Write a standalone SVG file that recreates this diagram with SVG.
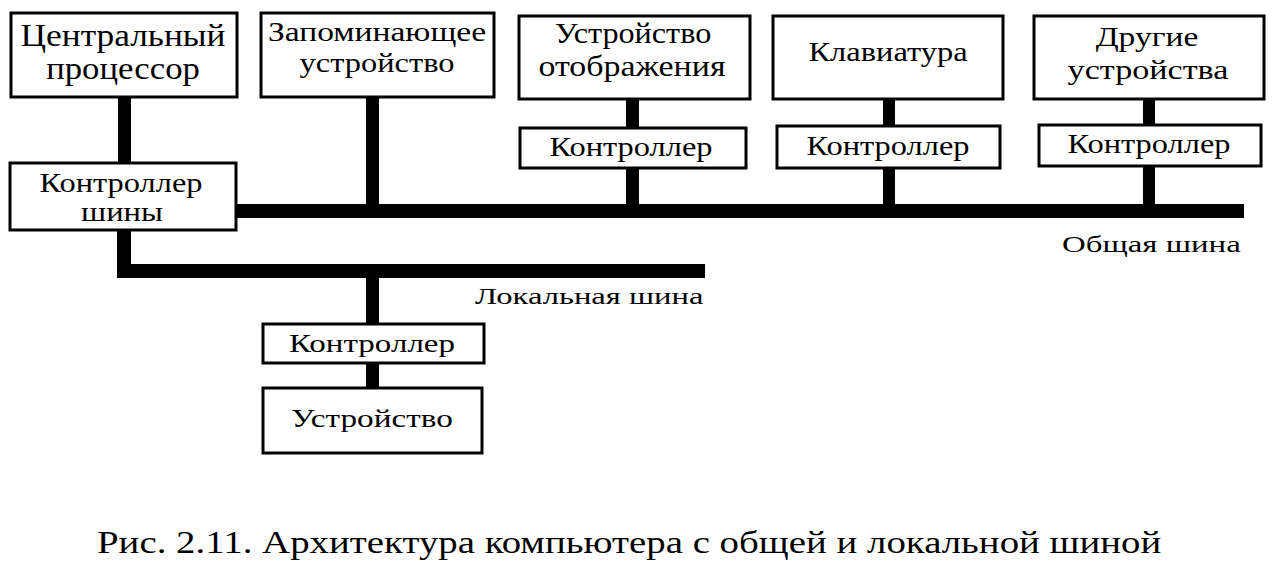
<svg xmlns="http://www.w3.org/2000/svg" width="1281" height="576" viewBox="0 0 1281 576">
<style>
.box{fill:#fff;stroke:#000;stroke-width:3}
.bus{fill:#000}
text{fill:#000;text-anchor:middle}
.lbl{text-anchor:start}
.cap{text-anchor:start}
</style>
<rect width="1281" height="576" fill="#fff"/>
<g id="connectors">
<rect class="bus" x="118" y="96" width="13" height="68"/>
<rect class="bus" x="366" y="96" width="13" height="110"/>
<rect class="bus" x="626" y="98" width="13" height="31"/>
<rect class="bus" x="626" y="167" width="13" height="39"/>
<rect class="bus" x="883" y="98" width="12" height="29"/>
<rect class="bus" x="883" y="167" width="12" height="39"/>
<rect class="bus" x="1143" y="98" width="12" height="28"/>
<rect class="bus" x="1143" y="165" width="12" height="41"/>
<rect class="bus" x="235" y="204" width="1009" height="14"/>
<rect class="bus" x="117" y="229" width="14" height="49"/>
<rect class="bus" x="117" y="264" width="588" height="14"/>
<rect class="bus" x="366" y="277" width="13" height="47"/>
<rect class="bus" x="366" y="361" width="13" height="28"/>
</g>
<g id="cpu"><rect class="box" x="11" y="13" width="226" height="84"/>
<text font-family="Liberation Serif, serif" font-size="31" transform="translate(123,46) scale(1.14,1)">Центральный</text>
<text font-family="Liberation Serif, serif" font-size="31" transform="translate(123,79) scale(1.12,1)">процессор</text></g>
<g id="memory"><rect class="box" x="261" y="13" width="233" height="84"/>
<text font-family="Liberation Serif, serif" font-size="28" transform="translate(377,41) scale(1.2,1)">Запоминающее</text>
<text font-family="Liberation Serif, serif" font-size="28" transform="translate(377,72) scale(1.16,1)">устройство</text></g>
<g id="display"><rect class="box" x="519" y="16" width="231" height="83"/>
<text font-family="Liberation Serif, serif" font-size="29" transform="translate(633,43) scale(1.11,1)">Устройство</text>
<text font-family="Liberation Serif, serif" font-size="29" transform="translate(632,76) scale(1.17,1)">отображения</text></g>
<g id="keyboard"><rect class="box" x="773" y="16" width="230" height="83"/>
<text font-family="Liberation Serif, serif" font-size="28" transform="translate(888,61) scale(1.16,1)">Клавиатура</text></g>
<g id="other"><rect class="box" x="1034" y="16" width="230" height="83"/>
<text font-family="Liberation Serif, serif" font-size="28" transform="translate(1147,46) scale(1.2,1)">Другие</text>
<text font-family="Liberation Serif, serif" font-size="28" transform="translate(1148,79) scale(1.22,1)">устройства</text></g>
<g id="ctrl-display"><rect class="box" x="520" y="128" width="226" height="40"/>
<text font-family="Liberation Serif, serif" font-size="27" transform="translate(631,156) scale(1.2,1)">Контроллер</text></g>
<g id="ctrl-keyboard"><rect class="box" x="777" y="126" width="223" height="42"/>
<text font-family="Liberation Serif, serif" font-size="27" transform="translate(888,155) scale(1.2,1)">Контроллер</text></g>
<g id="ctrl-other"><rect class="box" x="1039" y="125" width="222" height="41"/>
<text font-family="Liberation Serif, serif" font-size="27" transform="translate(1149,153) scale(1.2,1)">Контроллер</text></g>
<g id="bus-controller"><rect class="box" x="10" y="163" width="226" height="67"/>
<text font-family="Liberation Serif, serif" font-size="27" transform="translate(121,192) scale(1.2,1)">Контроллер</text>
<text font-family="Liberation Serif, serif" font-size="27" transform="translate(122,221) scale(1.21,1)">шины</text></g>
<g id="ctrl-local"><rect class="box" x="263" y="324" width="221" height="39"/>
<text font-family="Liberation Serif, serif" font-size="26" transform="translate(372,352) scale(1.27,1)">Контроллер</text></g>
<g id="device-local"><rect class="box" x="263" y="388" width="219" height="65"/>
<text font-family="Liberation Serif, serif" font-size="26" transform="translate(372,427) scale(1.28,1)">Устройство</text></g>
<g id="labels">
<text class="lbl" font-family="Liberation Serif, serif" font-size="24" transform="translate(1062,252) scale(1.37,1)">Общая шина</text>
<text class="lbl" font-family="Liberation Serif, serif" font-size="24" transform="translate(475,304) scale(1.36,1)">Локальная шина</text>
<text class="cap" font-family="Liberation Serif, serif" font-size="32" transform="translate(97,553) scale(1.215,1)">Рис. 2.11. Архитектура компьютера с общей и локальной шиной</text>
</g>
</svg>
